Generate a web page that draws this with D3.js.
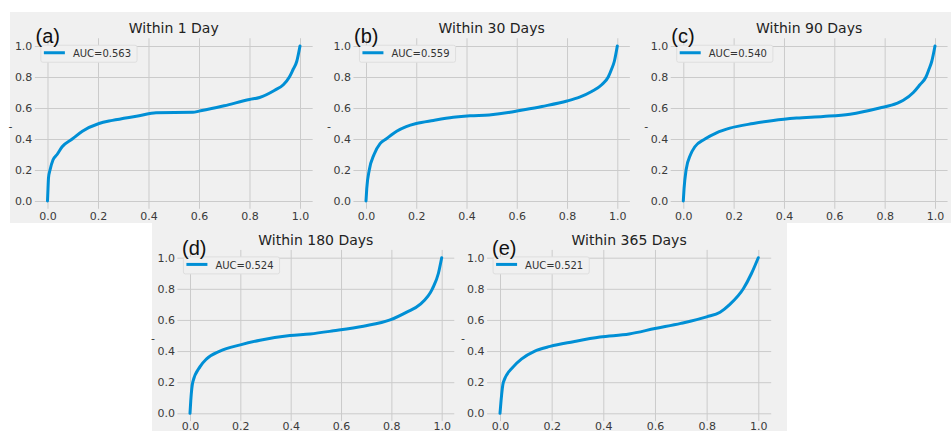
<!DOCTYPE html>
<html>
<head>
<meta charset="utf-8">
<script src="https://cdn.jsdelivr.net/npm/d3@7"></script>
<style>
  html, body { margin: 0; padding: 0; background: #ffffff; }
  svg { display: block; }
</style>
</head>
<body>
<svg id="chart" width="951" height="431"></svg>
<script>
// Cumulative curves, one per time window: [x, y] points
const curve1Day = [[0,0],[0.002,0.08],[0.004,0.15],[0.01,0.2],[0.022,0.266],[0.038,0.3],[0.058,0.35],[0.098,0.4],[0.138,0.45],[0.204,0.5],[0.257,0.52],[0.363,0.55],[0.43,0.57],[0.576,0.572],[0.6,0.58],[0.7,0.614],[0.8,0.655],[0.84,0.668],[0.9,0.715],[0.934,0.75],[0.958,0.8],[0.973,0.85],[0.987,0.9],[1,1]];
const curve30Days = [[0,0],[0.003,0.08],[0.013,0.2],[0.032,0.3],[0.056,0.37],[0.08,0.4],[0.122,0.45],[0.16,0.48],[0.2,0.5],[0.268,0.52],[0.347,0.54],[0.414,0.55],[0.49,0.555],[0.573,0.572],[0.6,0.58],[0.7,0.61],[0.8,0.645],[0.85,0.67],[0.898,0.706],[0.938,0.75],[0.964,0.8],[0.977,0.85],[0.988,0.9],[1,1]];
const curve90Days = [[0,0],[0.003,0.08],[0.011,0.2],[0.029,0.3],[0.046,0.35],[0.086,0.4],[0.132,0.44],[0.185,0.47],[0.278,0.5],[0.358,0.52],[0.45,0.535],[0.556,0.545],[0.662,0.56],[0.78,0.6],[0.848,0.63],[0.874,0.65],[0.914,0.7],[0.94,0.75],[0.964,0.8],[0.976,0.85],[0.987,0.9],[1,1]];
const curve180Days = [[0,0],[0.003,0.08],[0.011,0.2],[0.04,0.3],[0.066,0.35],[0.119,0.4],[0.2,0.44],[0.278,0.47],[0.397,0.5],[0.477,0.51],[0.57,0.53],[0.689,0.56],[0.795,0.6],[0.861,0.65],[0.914,0.7],[0.963,0.8],[0.987,0.9],[1,1]];
const curve365Days = [[0,0],[0.004,0.08],[0.013,0.2],[0.052,0.3],[0.084,0.35],[0.135,0.4],[0.194,0.43],[0.284,0.46],[0.387,0.49],[0.5,0.51],[0.6,0.545],[0.7,0.578],[0.8,0.62],[0.852,0.65],[0.89,0.7],[0.942,0.8],[0.974,0.9],[1,1]];

const panelLetters = ["(a)", "(b)", "(c)", "(d)", "(e)"];
const panelTitles = ["Within 1 Day", "Within 30 Days", "Within 90 Days", "Within 180 Days", "Within 365 Days"];
const aucValues = ["0.563", "0.559", "0.540", "0.524", "0.521"];
const tickValues = [0, 0.2, 0.4, 0.6, 0.8, 1.0];
const curves = [curve1Day, curve30Days, curve90Days, curve180Days, curve365Days];

// Pixel placement of the data range [0,1] for each small multiple
const layout = [
  { x0: 47.5,  x1: 300,   yTop: 46,    yBottom: 201,   xPad: 3.5 },
  { x0: 366,   x1: 617.3, yTop: 46,    yBottom: 201,   xPad: 3.5 },
  { x0: 683.3, x1: 935,   yTop: 46,    yBottom: 201,   xPad: 3.5 },
  { x0: 190,   x1: 441.7, yTop: 257.7, yBottom: 413.3, xPad: 1 },
  { x0: 500,   x1: 758.3, yTop: 257.7, yBottom: 413.3, xPad: 1 }
];

const BG = "#f0f0f0", GRID = "#cbcbcb", LINE = "#008fd5";
const svg = d3.select("#chart");

// figure backgrounds: top row strip and bottom row strip
svg.append("rect").attr("x", 10).attr("y", 12).attr("width", 941).attr("height", 211).attr("fill", BG);
svg.append("rect").attr("x", 152).attr("y", 222).attr("width", 635).attr("height", 209).attr("fill", BG);

const fmt = d3.format(".1f");

layout.forEach((p, i) => {
  const x = d3.scaleLinear().domain([0, 1]).range([p.x0, p.x1]);
  const y = d3.scaleLinear().domain([0, 1]).range([p.yBottom, p.yTop]);
  const left = x(-0.05), right = x(1.05), top = y(1.05), bottom = y(-0.05);
  const g = svg.append("g");

  // y axis with full-width grid
  const ya = g.append("g")
    .attr("transform", `translate(${left},0)`)
    .call(d3.axisLeft(y).tickValues(tickValues).tickFormat(fmt)
      .tickSize(-(right - left)).tickPadding(2.5));
  // x axis with full-height grid
  const xa = g.append("g")
    .attr("transform", `translate(0,${bottom})`)
    .call(d3.axisBottom(x).tickValues(tickValues).tickFormat(fmt)
      .tickSize(-(bottom - top)).tickPadding(p.xPad));
  [ya, xa].forEach(a => {
    a.select(".domain").remove();
    a.selectAll(".tick line").attr("stroke", GRID).attr("stroke-width", 1);
    a.selectAll(".tick text")
      .attr("fill", "#3a3a3a")
      .style("font-family", "DejaVu Sans, sans-serif")
      .style("font-size", "11px");
  });

  // curve
  const line = d3.line().x(d => x(d[0])).y(d => y(d[1])).curve(d3.curveMonotoneX);
  g.append("path").datum(curves[i])
    .attr("d", line)
    .attr("fill", "none")
    .attr("stroke", LINE)
    .attr("stroke-width", 3)
    .attr("stroke-linejoin", "round")
    .attr("stroke-linecap", "round");

  // title
  g.append("text")
    .attr("x", (left + right) / 2).attr("y", top - 5)
    .attr("text-anchor", "middle")
    .attr("fill", "#222")
    .style("font-family", "DejaVu Sans, sans-serif")
    .style("font-size", "14px")
    .text(panelTitles[i]);

  // y label placeholder
  g.append("text")
    .attr("x", p.x0 - 37).attr("y", (top + bottom) / 2 + 6)
    .attr("text-anchor", "middle")
    .attr("fill", "#333")
    .style("font-family", "DejaVu Sans, sans-serif")
    .style("font-size", "11px")
    .text("-");

  // legend
  const lg = g.append("g").attr("transform", `translate(${left + 6},${top + 7})`);
  const lgText = lg.append("text")
    .attr("x", 32).attr("y", 12)
    .attr("fill", "#333")
    .style("font-family", "DejaVu Sans, sans-serif")
    .style("font-size", "10px")
    .text("AUC=" + aucValues[i]);
  const tw = lgText.node().getComputedTextLength();
  lg.insert("rect", "text")
    .attr("x", 0).attr("y", 0)
    .attr("width", 32 + tw + 6).attr("height", 17)
    .attr("rx", 2)
    .attr("fill", BG)
    .attr("stroke", "#dedede");
  lg.append("line")
    .attr("x1", 3).attr("x2", 24).attr("y1", 7.5).attr("y2", 7.5)
    .attr("stroke", LINE).attr("stroke-width", 3);

  // panel letter
  g.append("text")
    .attr("x", p.x0 - (i < 3 ? 12 : 8)).attr("y", top + 5)
    .attr("fill", "#111")
    .style("font-family", "Liberation Sans, Arial, sans-serif")
    .style("font-size", "20px")
    .text(panelLetters[i]);
});
</script>
</body>
</html>
